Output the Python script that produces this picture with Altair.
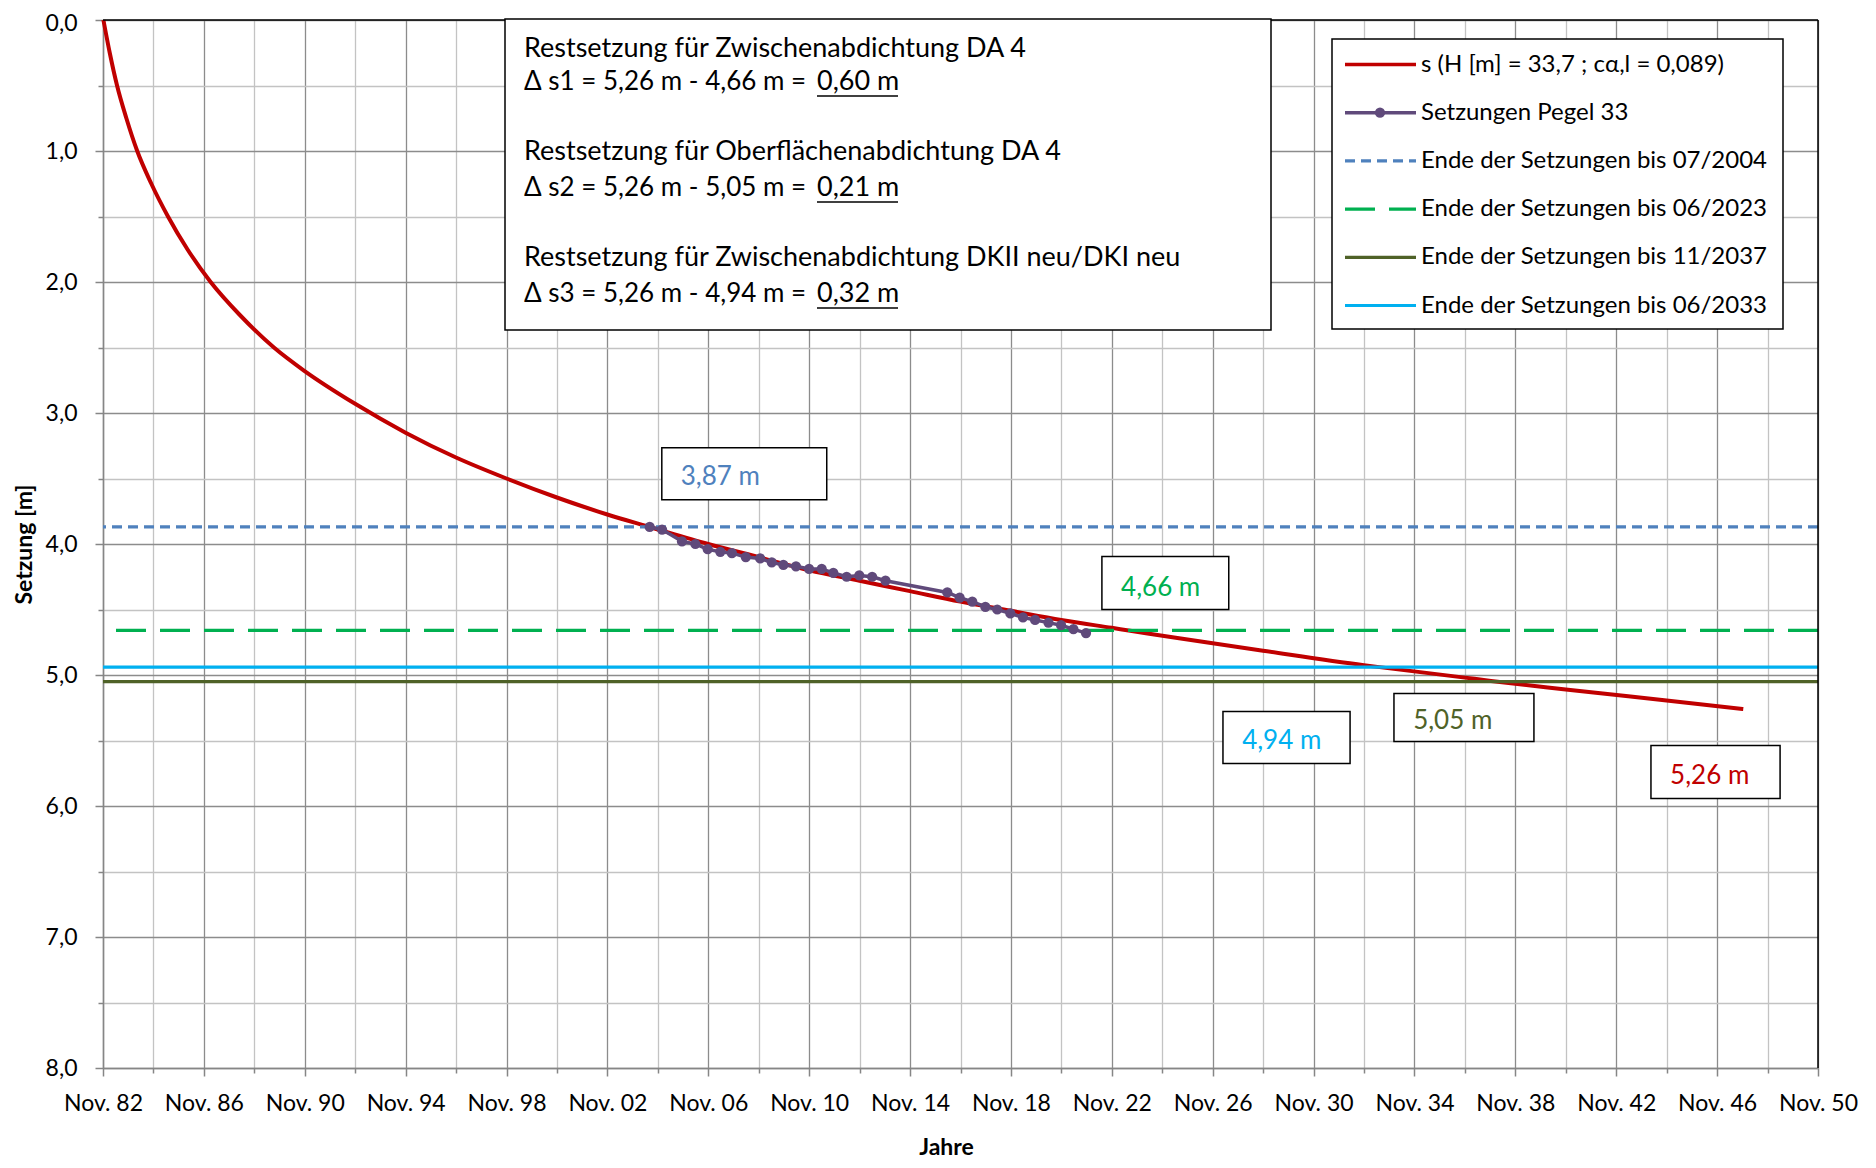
import altair as alt
import pandas as pd

# ---------------- data ----------------
# theoretical settlement curve s (H = 33,7 m ; c_alpha,l = 0,089)
curve_year = [1982.85, 1983.10, 1983.39, 1983.76, 1984.19, 1984.75, 1985.41, 1986.18,
              1987.10, 1988.25, 1989.61, 1990.83, 1992.83, 1994.83,
              1996.83, 1998.83, 2000.83, 2002.83, 2004.51, 2006.83, 2008.83, 2010.83,
              2012.83, 2014.83, 2016.83, 2018.83, 2020.83, 2022.83, 2023.50, 2025.50,
              2028.83, 2032.83, 2033.45, 2036.83, 2037.87, 2040.83, 2044.83, 2047.87]
curve_s = [0.00, 0.25, 0.50, 0.75, 1.00, 1.25, 1.50, 1.75,
           2.00, 2.25, 2.50, 2.68, 2.93, 3.15,
           3.34, 3.50, 3.645, 3.775, 3.87, 4.00, 4.10, 4.20,
           4.28, 4.36, 4.44, 4.51, 4.58, 4.64, 4.66, 4.72,
           4.815, 4.925, 4.94, 5.02, 5.045, 5.11, 5.195, 5.26]

# measured settlements, gauge 33
pegel_year = [2004.51, 2005.00, 2005.79, 2006.32, 2006.81, 2007.31, 2007.77, 2008.32,
              2008.89, 2009.35, 2009.81, 2010.31, 2010.83, 2011.33, 2011.79, 2012.32,
              2012.82, 2013.33, 2013.86, 2016.31, 2016.80, 2017.30, 2017.82, 2018.29,
              2018.81, 2019.31, 2019.79, 2020.32, 2020.82, 2021.31, 2021.81]
pegel_s = [3.87, 3.89, 3.98, 4.00, 4.04, 4.06, 4.07, 4.10,
           4.11, 4.14, 4.16, 4.17, 4.19, 4.19, 4.22, 4.25,
           4.24, 4.25, 4.28, 4.37, 4.41, 4.44, 4.48, 4.50,
           4.53, 4.56, 4.58, 4.60, 4.62, 4.65, 4.68]

# end-of-settlement levels
level_names = ["Ende der Setzungen bis 07/2004", "Ende der Setzungen bis 06/2023",
               "Ende der Setzungen bis 11/2037", "Ende der Setzungen bis 06/2033"]
level_values = [3.87, 4.66, 5.05, 4.94]

legend_labels = ["s (H [m] = 33,7 ; cα,l = 0,089)", "Setzungen Pegel 33"] + level_names

# value labels
ann_text = ["3,87 m", "4,66 m", "4,94 m", "5,05 m", "5,26 m"]

info_lines = ["Restsetzung für Zwischenabdichtung DA 4",
              "Δ s1 = 5,26 m - 4,66 m =",
              "Restsetzung für Oberflächenabdichtung DA 4",
              "Δ s2 = 5,26 m - 5,05 m =",
              "Restsetzung für Zwischenabdichtung DKII neu/DKI neu",
              "Δ s3 = 5,26 m - 4,94 m ="]
info_results = ["0,60 m", "0,21 m", "0,32 m"]

x_tick_values = [round(1982.8333 + 2 * k, 4) for k in range(35)]
y_tick_values = [0.5 * k for k in range(17)]

# ---------------- styles ----------------
FONT = "Lato"
RED = "#C00000"
PURPLE = "#604A7B"
level_colors = ["#4F81BD", "#00B050", "#4F6228", "#00B0F0"]
level_dash = [[10, 6], [30, 14], [1, 0], [1, 0]]
ann_colors = ["#4F81BD", "#00B050", "#00B0F0", "#4F6228", RED]
# annotation boxes in data units: x_from, x_to, y_from, y_to, text x, text y
ann_pos = [
    (2004.99, 2011.53, 3.265, 3.662, 2005.74, 3.49),
    (2022.44, 2027.47, 4.096, 4.500, 2023.20, 4.337),
    (2027.24, 2032.28, 5.279, 5.676, 2028.00, 5.504),
    (2034.02, 2039.57, 5.141, 5.507, 2034.78, 5.350),
    (2044.21, 2049.33, 5.538, 5.942, 2044.97, 5.770),
]

W, H = 1715, 1048

major_x = "floor(datum.value) % 4 == 2"
major_y = "datum.value % 1 == 0"

x_axis = alt.Axis(
    values=x_tick_values,
    title="Jahre",
    labelExpr=("floor(datum.value) % 4 == 2 ? 'Nov. ' + (floor(datum.value) % 100 < 10 ? '0' : '')"
               " + (floor(datum.value) % 100) : ''"),
    labelOverlap=False, labelFlush=False, labelPadding=16,
    gridColor={"condition": {"test": major_x, "value": "#8C8C8C"}, "value": "#C3C3C3"},
    tickSize={"condition": {"test": major_x, "value": 8}, "value": 5},
    titleX=843, titleY=79, titleBaseline="middle", titleAlign="center",
)
y_axis = alt.Axis(
    values=y_tick_values,
    title="Setzung [m]",
    labelExpr="datum.value % 1 == 0 ? replace(format(datum.value, '.1f'), '.', ',') : ''",
    labelOverlap=False, labelFlush=False, labelPadding=18,
    labelOffset={"condition": {"test": "datum.value == 0", "value": 3}, "value": 0},
    gridColor={"condition": {"test": major_y, "value": "#8C8C8C"}, "value": "#C3C3C3"},
    tickSize={"condition": {"test": major_y, "value": 8}, "value": 5},
    titleX=-79, titleY=524, titleBaseline="middle", titleAlign="center", titleAngle=270,
)
x_scale = alt.Scale(domain=[1982.8333, 2050.8333], nice=False, zero=False)
y_scale = alt.Scale(domain=[0, 8], reverse=True, nice=False, zero=False)

X = alt.X("x:Q", scale=x_scale, axis=x_axis)
Y = alt.Y("y:Q", scale=y_scale, axis=y_axis)

one = pd.DataFrame({"a": [0]})

# ---------------- layers ----------------
curve_df = pd.DataFrame({"x": curve_year, "y": curve_s})
pegel_df = pd.DataFrame({"x": pegel_year, "y": pegel_s})

curve = alt.Chart(curve_df).mark_line(color=RED, strokeWidth=4, interpolate="monotone").encode(x=X, y=Y)

level_layers = []
for v, c, d in zip(level_values, level_colors, level_dash):
    level_layers.append(
        alt.Chart(pd.DataFrame({"y": [v]})).mark_rule(color=c, strokeWidth=3.2, strokeDash=d)
        .encode(y=Y)
    )

pegel_line = alt.Chart(pegel_df).mark_line(color=PURPLE, strokeWidth=3.5).encode(x=X, y=Y)
pegel_pts = alt.Chart(pegel_df).mark_circle(color=PURPLE, size=105, opacity=1).encode(x=X, y=Y)

# plot frame top and right (black)
frame_top = alt.Chart(one).mark_rule(color="#000", strokeWidth=1.5).encode(
    y=alt.datum(0, type="quantitative", scale=y_scale))
frame_right = alt.Chart(one).mark_rule(color="#000", strokeWidth=1.5).encode(
    x=alt.datum(2050.8333, type="quantitative", scale=x_scale))

# value annotation boxes
ann_layers = []
for t, c, p in zip(ann_text, ann_colors, ann_pos):
    box_df = pd.DataFrame({"x": [p[0]], "x2": [p[1]], "y": [p[2]], "y2": [p[3]]})
    ann_layers.append(
        alt.Chart(box_df).mark_rect(fill="white", stroke="#000", strokeWidth=1.5)
        .encode(x=X, x2="x2", y=Y, y2="y2")
    )
    txt_df = pd.DataFrame({"x": [p[4]], "y": [p[5]], "t": [t]})
    ann_layers.append(
        alt.Chart(txt_df).mark_text(align="left", baseline="middle", font=FONT, fontSize=26, color=c)
        .encode(x=X, y=Y, text="t:N")
    )

# info text box (top)
info_layers = [
    alt.Chart(one).mark_rect(fill="white", stroke="#000", strokeWidth=1.5)
    .encode(x=alt.value(402), x2=alt.value(1168), y=alt.value(-1), y2=alt.value(310))
]
info_y = [29, 62, 132, 168, 238, 274]
for i, (line, yy) in enumerate(zip(info_lines, info_y)):
    info_layers.append(
        alt.Chart(one).mark_text(text=line, align="left", baseline="middle", font=FONT,
                                 fontSize=27 if i % 2 == 0 else 26, color="#000")
        .encode(x=alt.value(421), y=alt.value(yy))
    )
res_y = [62, 168, 274]
for r, yy in zip(info_results, res_y):
    info_layers.append(
        alt.Chart(one).mark_text(text=r, align="left", baseline="middle", font=FONT, fontSize=27, color="#000")
        .encode(x=alt.value(714), y=alt.value(yy))
    )
    info_layers.append(
        alt.Chart(one).mark_rule(color="#000", strokeWidth=1.5)
        .encode(x=alt.value(714), x2=alt.value(795), y=alt.value(yy + 14))
    )

# legend (manual)
leg_layers = [
    alt.Chart(one).mark_rect(fill="white", stroke="#000", strokeWidth=1.5)
    .encode(x=alt.value(1229), x2=alt.value(1680), y=alt.value(19), y2=alt.value(309))
]
leg_colors = [RED, PURPLE] + level_colors
leg_dash = [[1, 0], [1, 0]] + level_dash
for i, (lab, c, d) in enumerate(zip(legend_labels, leg_colors, leg_dash)):
    yy = 44.5 + 48.2 * i
    leg_layers.append(
        alt.Chart(one).mark_rule(color=c, strokeWidth=3.5 if i < 2 else 3.2, strokeDash=d)
        .encode(x=alt.value(1242), x2=alt.value(1313), y=alt.value(yy))
    )
    if i == 1:
        leg_layers.append(
            alt.Chart(one).mark_circle(color=PURPLE, size=105, opacity=1)
            .encode(x=alt.value(1277), y=alt.value(yy))
        )
    leg_layers.append(
        alt.Chart(one).mark_text(text=lab, align="left", baseline="middle", font=FONT, fontSize=24, color="#000")
        .encode(x=alt.value(1318), y=alt.value(yy))
    )

chart = alt.layer(
    curve, *level_layers, pegel_line, pegel_pts, frame_top, frame_right,
    *ann_layers, *info_layers, *leg_layers
).properties(
    width=W, height=H,
    autosize=alt.AutoSizeParams(type="none"),
    padding={"left": 95, "top": 12, "right": 40, "bottom": 96},
).configure(font=FONT).configure_axis(
    labelFont=FONT, labelFontSize=23, labelColor="#000",
    titleFont=FONT, titleFontSize=23, titleFontWeight="bold", titleColor="#000",
    domainColor="#868686", domainWidth=1.5, tickColor="#868686", tickWidth=1.5,
    gridWidth=1.3,
).configure_view(stroke=None)

chart.save("out.html", embed_options={"renderer": "svg", "actions": False})
